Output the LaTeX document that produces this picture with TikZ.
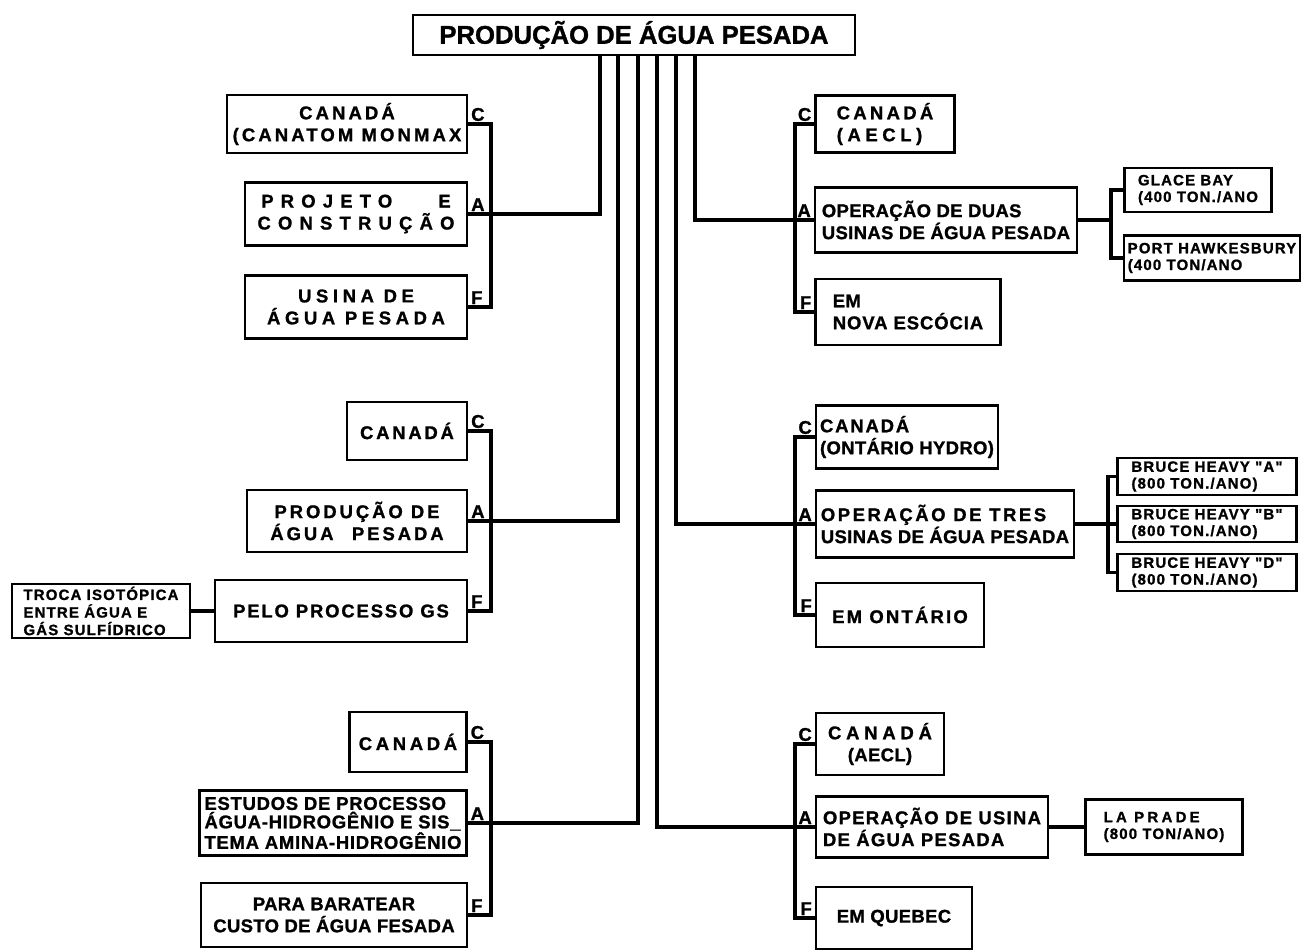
\documentclass[tikz,border=0pt]{standalone}
\usepackage{fontspec}
\setmainfont{Liberation Sans}
\usetikzlibrary{calc}
\newdimen\px \px=0.2mm
\newcommand\fonte[1]{\fontspec{Liberation Sans}[LetterSpace=#1,FakeBold=1.2]\bfseries}
\newcommand\ftitulo{\fontsize{14.6}{17}\selectfont\fonte{0}}
\newcommand\fcaixa{\fontsize{10.5}{12.5}\selectfont\fonte{2}}
\newcommand\fcaixinha{\fontsize{8.5}{9.5}\selectfont\fonte{8}}
\newcommand\esp[2]{{\fonte{#1}#2}}
\def\Ltitulo{PRODUÇÃO DE ÁGUA PESADA}
\def\Lcanatom{\esp{17}{CANADÁ}\\\esp{17}{(CANATOM MONMAX}}
\def\Lprojeto{\esp{39}{PROJETO\hspace{2.5em}E}\\\esp{39}{CONSTRUÇÃO}}
\def\Lusina{\esp{25}{USINA DE}\\\esp{25}{ÁGUA PESADA}}
\def\Lcanada{\esp{15}{CANADÁ}}
\def\Lproducao{\esp{16}{PRODUÇÃO DE}\\\esp{16}{ÁGUA\hspace{1em}PESADA}}
\def\Lpelo{\esp{10}{PELO PROCESSO GS}}
\def\Ltroca{TROCA ISOTÓPICA\\ENTRE ÁGUA E\\GÁS SULFÍDRICO}
\def\Lestudos{ESTUDOS DE PROCESSO\\ÁGUA-HIDROGÊNIO E SIS\_\\TEMA AMINA-HIDROGÊNIO}
\def\Lbaratear{PARA BARATEAR\\CUSTO DE ÁGUA FESADA}
\def\Laecl{\esp{18}{CANADÁ}\\\esp{25}{(AECL)}}
\def\Lduas{OPERAÇÃO DE DUAS\\USINAS DE ÁGUA PESADA}
\def\Lescocia{EM\\\esp{5}{NOVA ESCÓCIA}}
\def\Lglace{GLACE BAY\\(400 TON./ANO}
\def\Lport{PORT HAWKESBURY\\(400 TON/ANO}
\def\Lhydro{\esp{10}{CANADÁ}\\(ONTÁRIO HYDRO)}
\def\Ltres{\esp{14}{OPERAÇÃO DE TRES}\\USINAS DE ÁGUA PESADA}
\def\Lontario{\esp{12}{EM ONTÁRIO}}
\def\LbruceA{BRUCE HEAVY "A"\\(800 TON./ANO)}
\def\LbruceB{BRUCE HEAVY "B"\\(800 TON./ANO)}
\def\LbruceD{BRUCE HEAVY "D"\\(800 TON./ANO)}
\def\Laeclq{\esp{26}{CANADÁ}\\(AECL)}
\def\Lusinaq{\esp{7}{OPERAÇÃO DE USINA}\\\esp{7}{DE ÁGUA PESADA}}
\def\Lquebec{EM QUEBEC}
\def\Lprade{\esp{22}{LA PRADE}\\(800 TON/ANO)}

\begin{document}
\begin{tikzpicture}[x=0.2mm, y=-0.2mm,
  caixa/.style={draw, line width=1.4pt, inner xsep=2pt, inner ysep=1pt, align=center, font=\fcaixa},
  caixinha/.style={draw, line width=1.2pt, inner xsep=2pt, inner ysep=1pt, align=left, font=\fcaixinha},
  letra/.style={inner sep=1.5pt, font=\fcaixa},
  linha/.style={line width=1.9pt}
]
\useasboundingbox (0,0) rectangle (1303,950);

% ── Titulo e os seis troncos que descem dele ──
\node[caixa, font=\ftitulo, minimum width=442\px, minimum height=40\px] (titulo) at (634,35) {\Ltitulo};
\coordinate (tronco1) at (600,55);
\coordinate (tronco2) at (618,55);
\coordinate (tronco3) at (638,55);
\coordinate (tronco4) at (657,55);
\coordinate (tronco5) at (676,55);
\coordinate (tronco6) at (695,55);

% ── Grupo esquerdo de cima ──
\node[caixa, minimum width=240\px, minimum height=58\px] (esq1C) at (347,124) {\Lcanatom};
\node[caixa, minimum width=222\px, minimum height=63\px] (esq1A) at (356,214) {\Lprojeto};
\node[caixa, minimum width=222\px, minimum height=63\px] (esq1F) at (356,307) {\Lusina};
\node[letra, anchor=south west] (let1C) at (esq1C.east) {C};
\node[letra, anchor=south west] (let1A) at (esq1A.east) {A};
\node[letra, anchor=south west] (let1F) at (esq1F.east) {F};
\coordinate (barEsq1) at (491,214);
\draw[linha] (esq1C.east) -| (barEsq1) |- (esq1F.east);
\draw[linha] (esq1A.east) -| (tronco1);

% ── Grupo esquerdo do meio ──
\node[caixa, minimum width=120\px, minimum height=58\px] (esq2C) at (407,431) {\Lcanada};
\node[caixa, minimum width=220\px, minimum height=62\px] (esq2A) at (357,521) {\Lproducao};
\node[caixa, minimum width=252\px, minimum height=62\px] (esq2F) at (341,611) {\Lpelo};
\node[caixinha, minimum width=178\px, minimum height=54\px, font=\fontsize{8.5}{10}\selectfont\fonte{8}] (troca) at (101,611) {\Ltroca};
\node[letra, anchor=south west] (let2C) at (esq2C.east) {C};
\node[letra, anchor=south west] (let2A) at (esq2A.east) {A};
\node[letra, anchor=south west] (let2F) at (esq2F.east) {F};
\coordinate (barEsq2) at (491,521);
\draw[linha] (esq2C.east) -| (barEsq2) |- (esq2F.east);
\draw[linha] (esq2A.east) -| (tronco2);
\draw[linha] (troca.east) -- (esq2F.west);

% ── Grupo esquerdo de baixo ──
\node[caixa, minimum width=117\px, minimum height=60\px] (esq3C) at (408,742) {\esp{20}{CANADÁ}};
\node[caixa, align=left, minimum width=267\px, minimum height=65\px, font=\fontsize{10.5}{10.5}\selectfont\fonte{4}] (esq3A) at (333,823) {\Lestudos};
\node[caixa, minimum width=266\px, minimum height=64\px] (esq3F) at (334,915) {\Lbaratear};
\node[letra, anchor=south west] (let3C) at (esq3C.east) {C};
\node[letra, anchor=south west] (let3A) at (esq3A.east) {A};
\node[letra, anchor=south west] (let3F) at (esq3F.east) {F};
\coordinate (barEsq3) at (491,823);
\draw[linha] (esq3C.east) -| (barEsq3) |- (esq3F.east);
\draw[linha] (esq3A.east) -| (tronco3);

% ── Grupo direito de cima ──
\node[caixa, align=left, minimum width=139\px, minimum height=57\px] (dir1C) at (885,124) {\Laecl};
\node[caixa, align=left, minimum width=262\px, minimum height=65\px] (dir1A) at (946,220) {\Lduas};
\node[caixa, align=left, minimum width=185\px, minimum height=66\px] (dir1F) at (908,312) {\Lescocia};
\node[letra, anchor=south east] (let4C) at (dir1C.west) {C};
\node[letra, anchor=south east] (let4A) at (dir1A.west) {A};
\node[letra, anchor=south east] (let4F) at (dir1F.west) {F};
\coordinate (barDir1) at (795,220);
\draw[linha] (dir1C.west) -| (barDir1) |- (dir1F.west);
\draw[linha] (dir1A.west) -| (tronco6);
\node[caixinha, minimum width=147\px, minimum height=44\px] (glace) at (1198,190) {\Lglace};
\node[caixinha, minimum width=174\px, minimum height=45\px] (port) at (1212,258) {\Lport};
\coordinate (subDir1) at (1111,220);
\draw[linha] (dir1A.east) -- (subDir1);
\draw[linha] (glace.west) -| (subDir1) |- (port.west);

% ── Grupo direito do meio ──
\node[caixa, align=left, minimum width=182\px, minimum height=63\px] (dir2C) at (907,437) {\Lhydro};
\node[caixa, align=left, minimum width=258\px, minimum height=67\px] (dir2A) at (945,524) {\Ltres};
\node[caixa, align=left, minimum width=168\px, minimum height=64\px] (dir2F) at (900,615) {\Lontario};
\node[letra, anchor=south east] (let5C) at (dir2C.west) {C};
\node[letra, anchor=south east] (let5A) at (dir2A.west) {A};
\node[letra, anchor=south east] (let5F) at (dir2F.west) {F};
\coordinate (barDir2) at (795,524);
\draw[linha] (dir2C.west) -| (barDir2) |- (dir2F.west);
\draw[linha] (dir2A.west) -| (tronco5);
\node[caixinha, minimum width=179\px, minimum height=37\px] (bruceA) at (1207,476.5) {\LbruceA};
\node[caixinha, minimum width=179\px, minimum height=36\px] (bruceB) at (1207,524) {\LbruceB};
\node[caixinha, minimum width=179\px, minimum height=37\px] (bruceD) at (1207,572.5) {\LbruceD};
\coordinate (subDir2) at (1108,524);
\draw[linha] (dir2A.east) -- (bruceB.west);
\draw[linha] (bruceA.west) -| (subDir2) |- (bruceD.west);

% ── Grupo direito de baixo ──
\node[caixa, minimum width=128\px, minimum height=62\px] (dir3C) at (880,744) {\Laeclq};
\node[caixa, align=left, minimum width=232\px, minimum height=61\px] (dir3A) at (932,827) {\Lusinaq};
\node[caixa, align=left, minimum width=156\px, minimum height=62\px] (dir3F) at (894,918) {\Lquebec};
\node[letra, anchor=south east] (let6C) at (dir3C.west) {C};
\node[letra, anchor=south east] (let6A) at (dir3A.west) {A};
\node[letra, anchor=south east] (let6F) at (dir3F.west) {F};
\coordinate (barDir3) at (795,827);
\draw[linha] (dir3C.west) -| (barDir3) |- (dir3F.west);
\draw[linha] (dir3A.west) -| (tronco4);
\node[caixinha, minimum width=157\px, minimum height=55\px] (prade) at (1164,827) {\Lprade};
\draw[linha] (dir3A.east) -- (prade.west);

\end{tikzpicture}
\end{document}
